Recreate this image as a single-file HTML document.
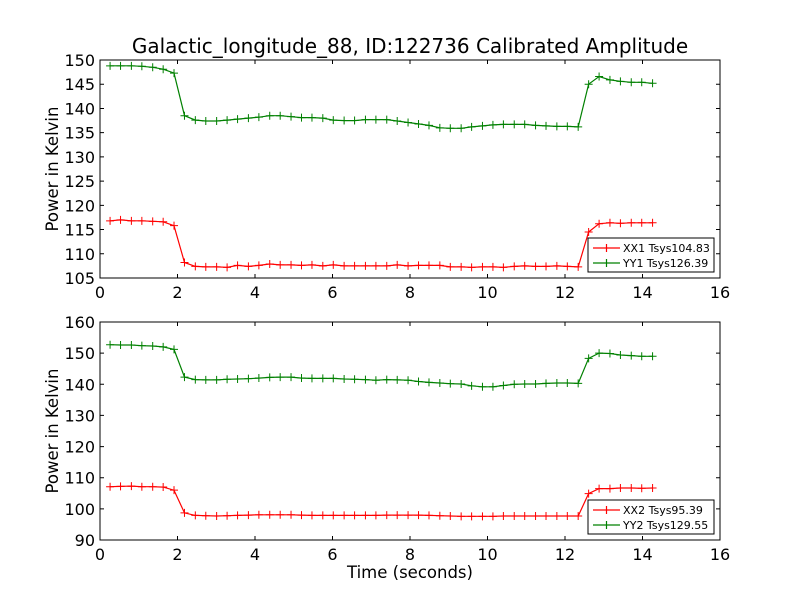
<!DOCTYPE html>
<html><head><meta charset="utf-8"><style>
body{margin:0;background:#fff}
svg text{font-family:"DejaVu Sans","Liberation Sans",sans-serif;fill:#000}
</style></head><body>
<svg id="c" width="800" height="600" xmlns="http://www.w3.org/2000/svg">
<rect width="800" height="600" fill="#fff"/>
<text x="410" y="53" font-size="20" text-anchor="middle">Galactic_longitude_88, ID:122736 Calibrated Amplitude</text>
</svg>
<script>
const times=[0.26,0.53,0.81,1.08,1.36,1.63,1.91,2.18,2.46,2.73,3.01,3.28,3.55,3.83,4.10,4.38,4.65,4.93,5.20,5.47,5.75,6.02,6.30,6.57,6.85,7.12,7.40,7.67,7.95,8.22,8.49,8.77,9.04,9.32,9.59,9.87,10.14,10.41,10.69,10.96,11.24,11.51,11.79,12.06,12.34,12.61,12.88,13.16,13.43,13.71,13.98,14.26];
const xx1=[116.8,117.0,116.8,116.8,116.7,116.6,115.8,
108.2,107.4,107.3,107.3,107.2,107.6,107.4,107.6,107.9,107.7,107.7,107.6,107.7,107.5,107.7,107.5,107.5,107.5,107.5,107.5,107.7,107.5,107.6,107.6,107.6,107.3,107.3,107.2,107.3,107.3,107.2,107.4,107.5,107.4,107.4,107.5,107.4,107.3,
114.5,116.2,116.4,116.3,116.4,116.4,116.4];
const yy1=[148.8,148.8,148.8,148.7,148.5,148.1,147.3,
138.5,137.6,137.4,137.4,137.6,137.8,138.0,138.2,138.5,138.5,138.3,138.1,138.1,138.0,137.6,137.5,137.5,137.7,137.7,137.7,137.4,137.1,136.8,136.5,136.0,135.9,135.9,136.2,136.4,136.6,136.7,136.7,136.7,136.5,136.4,136.3,136.3,136.2,
145.0,146.6,145.9,145.6,145.4,145.4,145.2];
const xx2=[107.1,107.2,107.3,107.1,107.1,107.0,106.0,
98.7,97.9,97.8,97.7,97.8,97.9,98.0,98.1,98.1,98.1,98.1,98.0,97.9,97.9,97.9,97.9,97.9,97.9,97.9,98.0,98.0,98.0,98.0,97.9,97.8,97.7,97.6,97.6,97.6,97.6,97.7,97.7,97.7,97.7,97.7,97.7,97.7,97.7,
104.9,106.5,106.5,106.7,106.7,106.6,106.7];
const yy2=[152.7,152.6,152.6,152.4,152.3,152.0,151.2,
142.3,141.5,141.4,141.4,141.6,141.7,141.8,142.0,142.2,142.3,142.3,142.0,141.9,141.9,141.9,141.7,141.6,141.5,141.3,141.5,141.4,141.3,140.9,140.6,140.4,140.2,140.1,139.5,139.2,139.2,139.6,140.0,140.1,140.1,140.3,140.4,140.4,140.3,
148.3,150.0,149.9,149.4,149.2,149.0,149.0];
const xTicks=[0,2,4,6,8,10,12,14,16];
const yTicksTop=[105,110,115,120,125,130,135,140,145,150];
const yTicksBot=[90,100,110,120,130,140,150,160];
const legendTop=["XX1 Tsys104.83","YY1 Tsys126.39"];
const legendBot=["XX2 Tsys95.39","YY2 Tsys129.55"];

const NS="http://www.w3.org/2000/svg";
const svg=document.getElementById('c');
function mk(tag,attrs,parent){const e=document.createElementNS(NS,tag);for(const k in attrs)e.setAttribute(k,attrs[k]);(parent||svg).appendChild(e);return e;}

function panel(name,top,bottom,ymin,ymax,yTicks,series,legend,showXLabel){
  const L=100,R=720;
  const g=mk('g',{});
  
  
  const xs=v=>L+(v-0)/(16-0)*(R-L);
  const ys=v=>bottom-(v-ymin)/(ymax-ymin)*(bottom-top);
  series.forEach(s=>{
    let d='';
    s.vals.forEach((v,i)=>{d+=(i?'L':'M')+xs(times[i]).toFixed(1)+','+ys(v).toFixed(1);});
    const p=mk('path',{d:d,fill:'none',stroke:s.color,'stroke-width':1.2},g);
    
    
    s.vals.forEach((v,i)=>{
      const x=xs(times[i]),y=ys(v);
      const m=mk('path',{d:`M${x-4},${y}H${x+4}M${x},${y-4}V${y+4}`,stroke:s.color,'stroke-width':1},g);
      
      
    });
  });
  const fr=mk('rect',{x:L,y:top,width:R-L,height:bottom-top,fill:'none',stroke:'#000','stroke-width':1},g);
  
  
  xTicks.forEach(t=>{
    const x=xs(t);
    mk('path',{d:`M${x},${bottom}v-4M${x},${top}v4`,stroke:'#000'},g);
    const tx=mk('text',{x:x,y:bottom+20,'font-size':16,'text-anchor':'middle'},g);
    tx.textContent=t;
    
    
  });
  yTicks.forEach(t=>{
    const y=ys(t);
    mk('path',{d:`M${L},${y}h4M${R},${y}h-4`,stroke:'#000'},g);
    const tx=mk('text',{x:L-5,y:y+6,'font-size':16,'text-anchor':'end'},g);
    tx.textContent=t;
    
    
  });
  const yl=mk('text',{x:58,y:(top+bottom)/2,'font-size':16.5,'text-anchor':'middle',transform:`rotate(-90 58 ${(top+bottom)/2})`},g);
  yl.textContent='Power in Kelvin';
  
  
  if(showXLabel){
    const xl=mk('text',{x:410,y:578,'font-size':16.5,'text-anchor':'middle'},g);
    xl.textContent='Time (seconds)';
    
    
  }
  const lg=mk('g',{},g);
  
  
  const ly=bottom-40;
  mk('rect',{x:588,y:ly,width:126,height:34,fill:'#fff',stroke:'#000'},lg);
  legend.forEach((txt,i)=>{
    const yy=ly+10+i*15,c=series[i].color;
    const e=mk('g',{},lg);
    
    
    mk('path',{d:`M593,${yy}h27M606.5,${yy-4}v8`,stroke:c,'stroke-width':1.2},e);
    const t=mk('text',{x:623,y:yy+4,'font-size':11},e);
    t.textContent=txt;
  });
}
panel('top-panel',60,278,105,150,yTicksTop,[{name:'xx1',color:'#ff0000',vals:xx1},{name:'yy1',color:'#008000',vals:yy1}],legendTop,false);
panel('bottom-panel',322,540,90,160,yTicksBot,[{name:'xx2',color:'#ff0000',vals:xx2},{name:'yy2',color:'#008000',vals:yy2}],legendBot,true);
</script>
</body></html>
